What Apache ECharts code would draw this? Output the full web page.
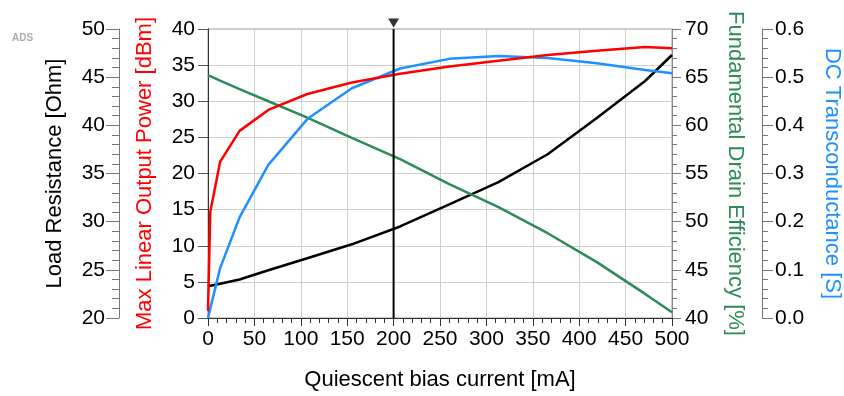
<!DOCTYPE html>
<html>
<head>
<meta charset="utf-8">
<script src="https://cdn.jsdelivr.net/npm/echarts@6/dist/echarts.min.js"></script>
<style>
html,body{margin:0;padding:0;background:#fff;}
#chart{width:844px;height:396px;}
</style>
</head>
<body>
<div id="chart"></div>
<script>
// Quiescent bias current sample points [mA]
const biasCurrent = [0, 2.5, 13, 34, 65, 107, 155, 207, 260, 313, 366, 419, 471, 500];
// Max linear output power [dBm]
const outputPower = [1.0, 14.7, 21.6, 25.9, 28.8, 31.0, 32.6, 33.8, 34.8, 35.6, 36.4, 37.0, 37.5, 37.35];
// Load resistance [Ohm]
const loadResistance = [23.3, 23.35, 23.55, 24.0, 24.95, 26.2, 27.65, 29.5, 31.8, 34.1, 37.0, 40.75, 44.6, 47.3];
// Fundamental drain efficiency [%]
const drainEfficiency = [65.2, 65.1, 64.65, 63.75, 62.5, 60.8, 58.7, 56.5, 53.9, 51.5, 48.8, 45.8, 42.5, 40.6];
// DC transconductance [S]
const transconductance = [0, 0.02, 0.103, 0.209, 0.318, 0.413, 0.477, 0.518, 0.538, 0.544, 0.540, 0.529, 0.515, 0.508];
// Marker position [mA]
const markerBias = [200];

const FONT = 'Liberation Sans, Arial, sans-serif';
const zip = (xs, ys) => xs.map((x, i) => [x, ys[i]]);

const chart = echarts.init(document.getElementById('chart'), null, {renderer: 'canvas'});

const tickLabel = {color: '#000', fontSize: 21, fontFamily: FONT};

chart.setOption({
  animation: false,
  backgroundColor: '#fff',
  graphic: [{
    type: 'text', left: 12, top: 33,
    style: {text: 'ADS', fill: '#aaa', font: 'bold 10px ' + FONT}
  }],
  grid: {left: 208, right: 172, top: 29, bottom: 78, show: true, borderColor: '#999', borderWidth: 1,
         containLabel: false, outerBoundsMode: 'none'},
  xAxis: {
    type: 'value', min: 0, max: 500, interval: 50,
    name: 'Quiescent bias current [mA]', nameLocation: 'middle', nameGap: 51,
    nameTextStyle: {color: '#000', fontSize: 22, fontFamily: FONT},
    axisLine: {show: true, onZero: false, lineStyle: {color: '#333', width: 1}},
    axisTick: {show: true, inside: false, length: 8, lineStyle: {color: '#333'}},
    minorTick: {show: true, splitNumber: 5, length: 5, lineStyle: {color: '#333'}},
    axisLabel: Object.assign({margin: 11}, tickLabel),
    splitLine: {show: true, lineStyle: {color: '#cfcfcf', width: 1}}
  },
  yAxis: [
    {
      type: 'value', position: 'left', offset: 0, min: 0, max: 40, interval: 5,
      name: 'Max Linear Output Power [dBm]', nameLocation: 'middle', nameGap: 52, nameRotate: 90,
      nameTextStyle: {color: '#ff0000', fontSize: 22, fontFamily: FONT},
      axisLine: {show: true, lineStyle: {color: '#333'}},
      axisTick: {show: true, inside: false, length: 10, lineStyle: {color: '#555'}},
      axisLabel: Object.assign({margin: 13}, tickLabel),
      splitLine: {show: true, lineStyle: {color: '#cfcfcf', width: 1}}
    },
    {
      type: 'value', position: 'left', offset: 89, min: 20, max: 50, interval: 5,
      name: 'Load Resistance [Ohm]', nameLocation: 'middle', nameGap: 53, nameRotate: 90,
      nameTextStyle: {color: '#000', fontSize: 22, fontFamily: FONT},
      axisLine: {show: true, lineStyle: {color: '#777'}},
      axisTick: {show: true, inside: false, length: 13, lineStyle: {color: '#777'}},
      minorTick: {show: true, splitNumber: 5, length: 7, lineStyle: {color: '#777'}},
      axisLabel: Object.assign({margin: 14}, tickLabel),
      splitLine: {show: false}
    },
    {
      type: 'value', position: 'right', offset: 0, min: 40, max: 70, interval: 5,
      name: 'Fundamental Drain Efficiency [%]', nameLocation: 'middle', nameGap: 52, nameRotate: -90,
      nameTextStyle: {color: '#2e8b57', fontSize: 22, fontFamily: FONT},
      axisLine: {show: true, lineStyle: {color: '#888'}},
      axisTick: {show: true, inside: false, length: 9, lineStyle: {color: '#777'}},
      minorTick: {show: true, splitNumber: 5, length: 5, lineStyle: {color: '#777'}},
      axisLabel: Object.assign({margin: 13}, tickLabel),
      splitLine: {show: false}
    },
    {
      type: 'value', position: 'right', offset: 90, min: 0, max: 0.6, interval: 0.1,
      name: 'DC Transconductance [S]', nameLocation: 'middle', nameGap: 59, nameRotate: -90,
      nameTextStyle: {color: '#1e90ff', fontSize: 22, fontFamily: FONT},
      axisLine: {show: true, lineStyle: {color: '#777'}},
      axisTick: {show: true, inside: false, length: 11, lineStyle: {color: '#777'}},
      minorTick: {show: true, splitNumber: 5, length: 6, lineStyle: {color: '#777'}},
      axisLabel: Object.assign({margin: 13, formatter: v => v.toFixed(1)}, tickLabel),
      splitLine: {show: false}
    }
  ],
  series: [
    {
      name: 'Load Resistance', type: 'line', yAxisIndex: 1, data: zip(biasCurrent, loadResistance),
      showSymbol: false, symbol: 'none', smooth: false,
      lineStyle: {color: '#000', width: 2.5}
    },
    {
      name: 'Drain Efficiency', type: 'line', yAxisIndex: 2, data: zip(biasCurrent, drainEfficiency),
      showSymbol: false, symbol: 'none',
      lineStyle: {color: '#2e8b57', width: 2.5}
    },
    {
      name: 'Transconductance', type: 'line', yAxisIndex: 3, data: zip(biasCurrent, transconductance),
      showSymbol: false, symbol: 'none',
      lineStyle: {color: '#1e90ff', width: 2.5}
    },
    {
      name: 'Output Power', type: 'line', yAxisIndex: 0, data: zip(biasCurrent, outputPower),
      showSymbol: false, symbol: 'none',
      lineStyle: {color: '#ff0000', width: 2.5}
    },
    {
      name: 'Marker', type: 'line', yAxisIndex: 0,
      data: [[markerBias[0], 0], [markerBias[0], 40]],
      showSymbol: false, symbol: 'none',
      lineStyle: {color: '#000', width: 2}
    },
    {
      name: 'MarkerHead', type: 'scatter', yAxisIndex: 0, clip: false,
      data: [[markerBias[0], 40]],
      symbol: 'triangle', symbolRotate: 180, symbolSize: [11, 9], symbolOffset: [0, -6],
      itemStyle: {color: '#000'}
    }
  ]
});
</script>
</body>
</html>
